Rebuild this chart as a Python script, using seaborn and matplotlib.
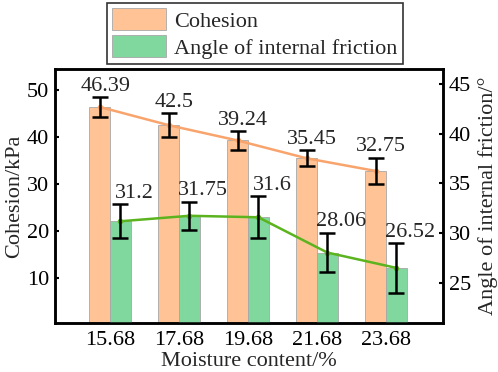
import numpy as np
import pandas as pd
import matplotlib
matplotlib.use("Agg")
import matplotlib.pyplot as plt
import seaborn as sns
from matplotlib.patches import Patch

# podaci
moisture = ["15.68", "17.68", "19.68", "21.68", "23.68"]
cohesion = [46.39, 42.5, 39.24, 35.45, 32.75]
cohesion_err = [2.1, 2.5, 2.0, 1.7, 2.8]
friction = [31.2, 31.75, 31.6, 28.06, 26.52]
friction_err = [1.7, 1.4, 2.1, 2.0, 2.5]
series = ["Cohesion", "Angle of internal friction"]

bar_orange = "#FFC396"
bar_green = "#80D89E"
line_orange = "#F8A46C"
line_green = "#5BB41E"

sns.set_theme(style="white")
plt.rcParams["font.family"] = ["Liberation Serif", "DejaVu Serif"]
plt.rcParams["font.size"] = 16

df_c = pd.DataFrame({"x": moisture * 2,
                     "val": cohesion + [np.nan] * 5,
                     "serie": [series[0]] * 5 + [series[1]] * 5})
df_f = pd.DataFrame({"x": moisture * 2,
                     "val": [np.nan] * 5 + friction,
                     "serie": [series[0]] * 5 + [series[1]] * 5})

fig = plt.figure(figsize=(4.98, 3.72), dpi=100)
ax1 = fig.add_axes([0.110, 0.132, 0.780, 0.683])
ax2 = ax1.twinx()

pal = {series[0]: bar_orange, series[1]: bar_green}
sns.barplot(data=df_c, x="x", y="val", hue="serie", hue_order=series, palette=pal,
            width=0.6, errorbar=None, edgecolor="#a8a8a8", linewidth=0.6,
            saturation=1, legend=False, ax=ax1)
sns.barplot(data=df_f, x="x", y="val", hue="serie", hue_order=series, palette=pal,
            width=0.6, errorbar=None, edgecolor="#a8a8a8", linewidth=0.6,
            saturation=1, legend=False, ax=ax2)

pos = np.arange(len(moisture))
xc = pos - 0.15
xf = pos + 0.15

ax1.plot(xc, cohesion, color=line_orange, lw=1.8, marker="o", ms=3, zorder=4)
ax1.errorbar(xc, cohesion, yerr=cohesion_err, fmt="none", ecolor="black",
             elinewidth=1.8, capsize=5.5, capthick=1.8, zorder=5)
ax2.plot(xf, friction, color=line_green, lw=1.8, marker="o", ms=3, zorder=4)
ax2.errorbar(xf, friction, yerr=friction_err, fmt="none", ecolor="black",
             elinewidth=1.8, capsize=5.5, capthick=1.8, zorder=5)

for x, v, e in zip(xc, cohesion, cohesion_err):
    ax1.annotate(f"{v:g}", (x, v + e), xytext=(4, 1), textcoords="offset points",
                 ha="center", va="bottom", fontsize=16)
for x, v, e in zip(xf, friction, friction_err):
    ax2.annotate(f"{v:g}", (x, v + e), xytext=(10, 1), textcoords="offset points",
                 ha="center", va="bottom", fontsize=16)

ax1.set_xlim(-0.8, 4.83)
ax1.set_ylim(0.4, 54.5)
ax2.set_ylim(21, 46.5)
ax1.set_yticks([10, 20, 30, 40, 50])
ax2.set_yticks([25, 30, 35, 40, 45])

ax1.set_xlabel("Moisture content/%", fontsize=16, labelpad=1)
ax1.set_ylabel("Cohesion/kPa", fontsize=16, labelpad=2)
ax2.set_ylabel("Angle of internal friction/°", fontsize=16, labelpad=5)

for ax in (ax1, ax2):
    for s in ax.spines.values():
        s.set_linewidth(1.8)
        s.set_color("black")
    ax.tick_params(direction="in", length=3, width=1.5, labelsize=16, pad=4,
                   colors="black")
ax1.tick_params(axis="x", pad=6)

handles = [Patch(facecolor=bar_orange, edgecolor="#a8a8a8", linewidth=0.6),
           Patch(facecolor=bar_green, edgecolor="#a8a8a8", linewidth=0.6)]
leg = fig.legend(handles, series, loc="upper center", bbox_to_anchor=(0.512, 0.993),
                 fontsize=16, frameon=True, fancybox=False, handlelength=2.4,
                 handleheight=1.15, handletextpad=0.4, labelspacing=0.15,
                 borderpad=0.25, borderaxespad=0)
leg.get_frame().set_edgecolor("black")
leg.get_frame().set_linewidth(1.2)

fig.savefig("out.png", dpi=100)
